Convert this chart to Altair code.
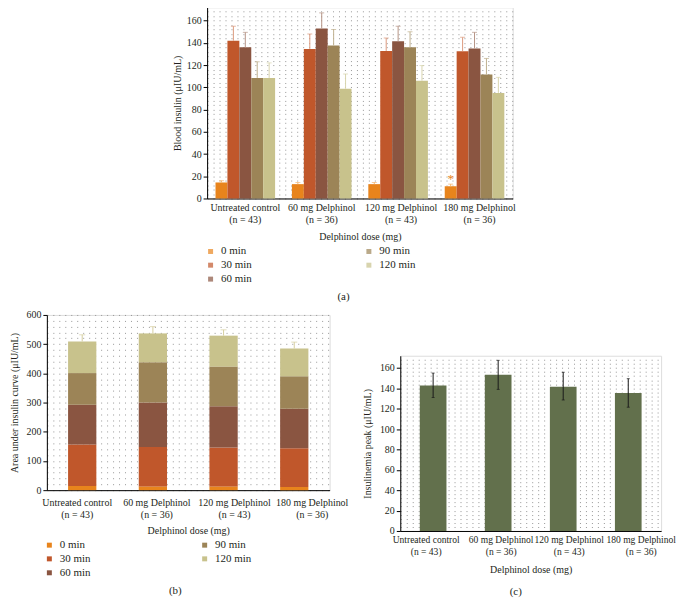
import altair as alt
import pandas as pd

# ---------------- data ----------------
groups = ["Untreated control", "60 mg Delphinol", "120 mg Delphinol", "180 mg Delphinol"]
group_n = ["(n = 43)", "(n = 36)", "(n = 43)", "(n = 36)"]
series = ["0 min", "30 min", "60 min", "90 min", "120 min"]
series_colors = ["#e8841c", "#c0572b", "#8a5541", "#9c8457", "#c8c28c"]
error_colors = ["#f2b46e", "#dc9a7e", "#b59486", "#c0b08f", "#d9d5ae"]

# (a) blood insulin means (µIU/mL) per time point, in group order
ins_0min = [14.4, 12.9, 12.9, 11.0]
ins_30min = [142.0, 134.6, 132.8, 132.5]
ins_60min = [136.0, 153.0, 141.4, 135.0]
ins_90min = [108.5, 137.6, 136.0, 111.5]
ins_120min = [108.5, 98.7, 106.0, 95.0]
# upper ends of the error bars
up_0min = [16.0, 14.4, 14.4, 12.9]
up_30min = [155.0, 148.0, 144.4, 145.0]
up_60min = [149.5, 167.0, 155.0, 149.5]
up_90min = [123.0, 152.0, 150.0, 126.0]
up_120min = [122.0, 112.0, 119.6, 109.0]
star_group = "180 mg Delphinol"
star_series = "0 min"
star_value = 17.5

# (b) upper end of error bar on the area under curve
auc_upper = [532, 560, 549, 507]

# (c) insulinemia peak
peak = [142.7, 153.4, 141.7, 135.5]
peak_lo = [131.0, 139.0, 128.6, 121.5]
peak_hi = [155.0, 167.5, 155.8, 149.5]
peak_color = "#62704c"

captions = ["(a)", "(b)", "(c)"]

# ---------------- tables ----------------
cats = [f"{g}\n{n}" for g, n in zip(groups, group_n)]
vals = [ins_0min, ins_30min, ins_60min, ins_90min, ins_120min]
ups = [up_0min, up_30min, up_60min, up_90min, up_120min]
rows = []
for si, s in enumerate(series):
    for gi in range(len(groups)):
        rows.append(dict(cat=cats[gi], series=s, idx=si, value=vals[si][gi],
                         upper=ups[si][gi], ecolor=error_colors[si]))
df_a = pd.DataFrame(rows)
df_star = pd.DataFrame({"cat": [cats[groups.index(star_group)]], "series": [star_series],
                        "value": [star_value]})
totals = [sum(v[gi] for v in vals) for gi in range(len(groups))]
df_auc = pd.DataFrame({"cat": cats, "total": totals, "upper": auc_upper})
df_c = pd.DataFrame({"cat": cats, "peak": peak, "lo": peak_lo, "hi": peak_hi})

FONT = "Liberation Serif"
TXT = "#231f20"


def y_axis(title, label_step, values, title_pad):
    return alt.Axis(
        title=title, values=values, tickCount=1000, format="d", grid=True, gridDash=[1, 5],
        gridColor="#8c8c8c", gridWidth=1, gridOpacity=0.9,
        labelExpr=f"datum.value % {label_step} === 0 ? datum.label : ''",
        tickOpacity={"condition": {"test": f"datum.value % {label_step} === 0", "value": 1}, "value": 0},
        tickSize=4, tickColor="#000", domainColor="#000", labelFont=FONT, labelFontSize=10,
        labelColor=TXT, labelPadding=2, labelOverlap=False, titleFont=FONT, titleFontSize=10,
        titleFontWeight="normal", titleColor=TXT, titlePadding=title_pad)


def x_axis(offsets, label_size=10, label_pad=4, title_pad=8):
    label_offset = {"condition": [
        {"test": "datum.index < 0.2", "value": offsets[0]},
        {"test": "datum.index < 0.5", "value": offsets[1]},
        {"test": "datum.index < 0.8", "value": offsets[2]}], "value": offsets[3]}
    return alt.Axis(
        title="Delphinol dose (mg)", labelExpr="split(datum.label, '\\n')", labelAngle=0,
        ticks=False, domainColor="#000", labelFont=FONT, labelFontSize=label_size, labelColor=TXT,
        labelLineHeight=12, labelPadding=label_pad, labelOverlap=False, labelOffset=label_offset,
        titleFont=FONT, titleFontSize=10, titleFontWeight="normal", titleColor=TXT,
        titlePadding=title_pad)


def legend(lx, ly, colpad):
    return alt.Legend(title=None, orient="none", legendX=lx, legendY=ly, columns=2,
                      columnPadding=colpad, rowPadding=2, symbolType="square", symbolSize=25,
                      symbolStrokeWidth=0, labelFont=FONT, labelFontSize=11, labelColor=TXT,
                      labelOffset=5, padding=0)


color_scale = alt.Scale(domain=series, range=series_colors)


def caption(text, cx, cy):
    return alt.Chart(pd.DataFrame({"t": [text]})).mark_text(
        font=FONT, fontSize=11, color=TXT, baseline="middle").encode(
        text="t:N", x=alt.value(cx), y=alt.value(cy))


# ---------------- (a) ----------------
xa = alt.X("cat:N", sort=cats, axis=x_axis([0, 0, 3, 5], title_pad=7.5),
           scale=alt.Scale(paddingInner=0.22, paddingOuter=0.11))
xoff = alt.XOffset("series:N", sort=series, scale=alt.Scale(paddingInner=0, paddingOuter=0))
ya_scale = alt.Scale(domain=[0, 172], nice=False)
base_a = alt.Chart(df_a)
bars_a = base_a.mark_bar().encode(
    x=xa, xOffset=xoff,
    y=alt.Y("value:Q", scale=ya_scale,
            axis=y_axis("Blood insulin (μIU/mL)", 20, list(range(0, 172, 4)), 4)),
    color=alt.Color("series:N", scale=color_scale, legend=legend(-2, 239.5, 112)))
err_a = base_a.mark_rule(strokeWidth=1).encode(
    x=xa, xOffset=xoff, y="value:Q", y2="upper:Q", color=alt.Color("ecolor:N", scale=None))
cap_a = base_a.mark_tick(orient="horizontal", size=5, thickness=1).encode(
    x=xa, xOffset=xoff, y="upper:Q", color=alt.Color("ecolor:N", scale=None))
star_a = alt.Chart(df_star).mark_text(text="*", font=FONT, fontSize=13, color="#e8841c",
                                      baseline="middle").encode(
    x=xa, xOffset=xoff, y="value:Q")
chart_a = alt.layer(bars_a, err_a, cap_a, star_a, caption(captions[0], 137, 291)).properties(
    width=307, height=192)

# ---------------- (b) ----------------
xb = alt.X("cat:N", sort=cats, axis=x_axis([-5, 4, 11, 18], label_pad=7, title_pad=7),
           scale=alt.Scale(paddingInner=0.6, paddingOuter=0.3))
bars_b = alt.Chart(df_a).mark_bar().encode(
    x=xb,
    y=alt.Y("value:Q", stack="zero", scale=alt.Scale(domain=[0, 600], nice=False),
            axis=y_axis("Area under insulin curve (μIU/mL)", 100, list(range(0, 601, 20)), 7)),
    color=alt.Color("series:N", scale=color_scale, legend=legend(-3, 225.5, 109)),
    order=alt.Order("idx:Q", sort="ascending"))
err_b = alt.Chart(df_auc).mark_rule(strokeWidth=1, color="#d6cf9f").encode(
    x=xb, y="total:Q", y2="upper:Q")
cap_b = alt.Chart(df_auc).mark_tick(orient="horizontal", size=6, thickness=1,
                                    color="#d6cf9f").encode(x=xb, y="upper:Q")
chart_b = alt.layer(bars_b, err_b, cap_b, caption(captions[1], 129, 277)).properties(
    width=284, height=176)

# ---------------- (c) ----------------
xc = alt.X("cat:N", sort=cats, axis=x_axis([-7, 3, 6, 13], label_size=9.6, title_pad=8),
           scale=alt.Scale(paddingInner=0.59, paddingOuter=0.3))
bars_c = alt.Chart(df_c).mark_bar(color=peak_color).encode(
    x=xc,
    y=alt.Y("peak:Q", scale=alt.Scale(domain=[0, 172], nice=False),
            axis=y_axis("Insulinemia peak (μIU/mL)", 20, list(range(0, 172, 4)), 7)))
err_c = alt.Chart(df_c).mark_rule(strokeWidth=1, color="#1a1a1a").encode(
    x=xc, y="lo:Q", y2="hi:Q")
caphi_c = alt.Chart(df_c).mark_tick(orient="horizontal", size=3, thickness=1,
                                    color="#1a1a1a").encode(x=xc, y="hi:Q")
caplo_c = alt.Chart(df_c).mark_tick(orient="horizontal", size=3, thickness=1,
                                    color="#1a1a1a").encode(x=xc, y="lo:Q")
chart_c = alt.layer(bars_c, err_c, caphi_c, caplo_c, caption(captions[2], 116, 237)).properties(
    width=262, height=176)

# empty spacer that lowers panel (c) relative to panel (b)
spacer = alt.Chart(pd.DataFrame({"t": [""]})).mark_text().encode(text="t:N").properties(
    width=262, height=41)
col_c = alt.vconcat(spacer, chart_c, spacing=0, bounds="flush")

bottom = alt.hconcat(chart_b, col_c, spacing=71, bounds="flush").resolve_scale(
    color="independent", x="independent", y="independent")

chart = alt.vconcat(chart_a, bottom, spacing=6, center=True).resolve_scale(
    color="independent").resolve_legend(color="independent").properties(
    padding={"left": 0, "top": -4, "right": 0, "bottom": 0}
).configure_view(stroke=None).configure(background="white")

chart.save("out.html", embed_options={"renderer": "svg", "actions": False})
